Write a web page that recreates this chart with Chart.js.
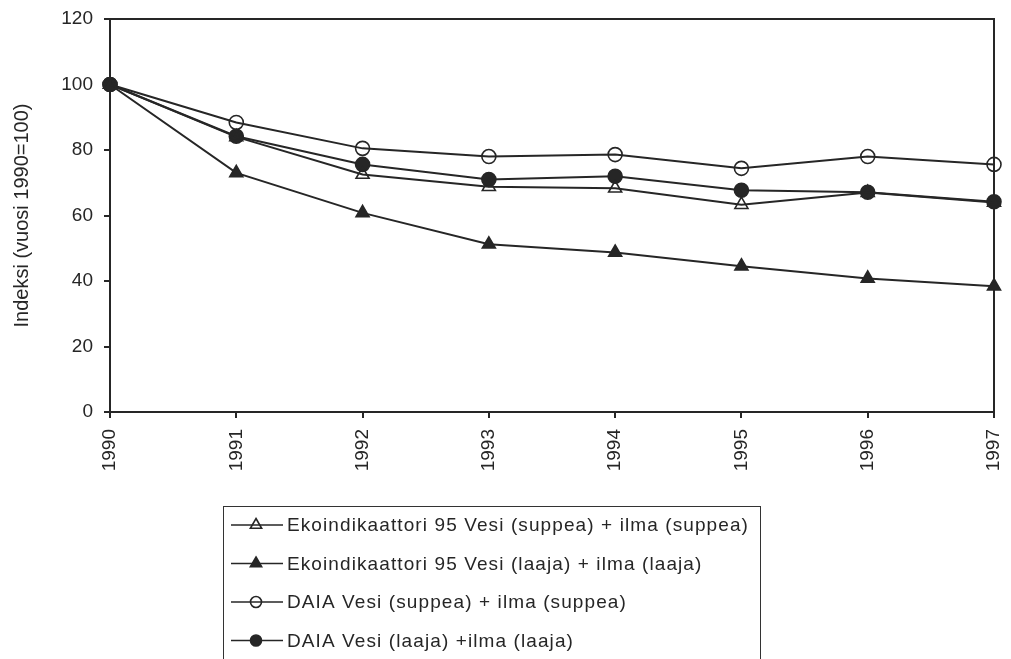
<!DOCTYPE html>
<html>
<head>
<meta charset="utf-8">
<script src="https://cdn.jsdelivr.net/npm/chart.js@4/dist/chart.umd.min.js"></script>
<style>
  html, body { margin: 0; padding: 0; background: #fff; }
  #wrap { width: 1011px; height: 659px; }
</style>
</head>
<body>
<div id="wrap"><canvas id="line"></canvas></div>
<script>
// values
const years = ['1990', '1991', '1992', '1993', '1994', '1995', '1996', '1997']
const ekoSuppea = [100, 84, 72.5, 68.8, 68.3, 63.3, 67, 64]
const ekoLaaja = [100, 73, 60.8, 51.2, 48.7, 44.5, 40.8, 38.4]
const daiaSuppea = [100, 88.4, 80.5, 78, 78.6, 74.4, 78, 75.6]
const daiaLaaja = [100, 84.2, 75.6, 71, 72, 67.7, 67.1, 64.2]

const seriesNames = [
  'Ekoindikaattori 95 Vesi (suppea) + ilma (suppea)',
  'Ekoindikaattori 95 Vesi (laaja) + ilma (laaja)',
  'DAIA Vesi (suppea) + ilma (suppea)',
  'DAIA Vesi (laaja) +ilma (laaja)',
]
const yTicks = [0, 20, 40, 60, 80, 100, 120]

const ink = '#262626'
const family = '"Liberation Sans", Arial, sans-serif'
const font = { family: family, size: 19 }

function series(label, data, style, filled, radius) {
  return {
    label: label,
    data: data,
    borderColor: ink,
    borderWidth: 2,
    pointStyle: style,
    pointRadius: radius,
    pointHoverRadius: radius,
    pointBorderWidth: 1.6,
    pointBorderColor: ink,
    pointBackgroundColor: filled ? ink : 'rgba(0,0,0,0)',
    tension: 0,
  }
}

// box around the plot area (top and right edges)
const frame = {
  id: 'frame',
  beforeDatasetsDraw(chart) {
    const a = chart.chartArea
    const ctx = chart.ctx
    ctx.save()
    ctx.strokeStyle = ink
    ctx.lineWidth = 2
    ctx.beginPath()
    ctx.moveTo(a.left, a.top)
    ctx.lineTo(a.right, a.top)
    ctx.lineTo(a.right, a.bottom)
    ctx.stroke()
    ctx.restore()
  },
}

// stacked legend in a box under the axis labels
const boxLegend = {
  id: 'boxLegend',
  afterDraw(chart) {
    const ctx = chart.ctx
    ctx.save()
    ctx.strokeStyle = '#333'
    ctx.lineWidth = 1
    ctx.strokeRect(223.5, 506.5, 537, 200)
    ctx.font = '19px ' + family
    ctx.letterSpacing = '1.1px'
    ctx.textBaseline = 'middle'
    chart.data.datasets.forEach(function (ds, i) {
      const y = 525 + i * 38.5
      ctx.strokeStyle = ink
      ctx.lineWidth = 1.6
      ctx.beginPath()
      ctx.moveTo(231, y)
      ctx.lineTo(283, y)
      ctx.stroke()
      ctx.fillStyle = ds.pointBackgroundColor
      Chart.helpers.drawPoint(ctx, {
        pointStyle: ds.pointStyle,
        radius: ds.pointStyle === 'circle' ? 5.5 : 6.5,
        rotation: 0,
        borderWidth: 1.4,
      }, 256, y)
      ctx.fillStyle = ink
      ctx.fillText(ds.label, 287, y + 1)
    })
    ctx.restore()
  },
}

const lineConfig = {
  type: 'line',
  data: {
    labels: years,
    datasets: [
      series(seriesNames[0], ekoSuppea, 'triangle', false, 7.5),
      series(seriesNames[1], ekoLaaja, 'triangle', true, 7.5),
      series(seriesNames[2], daiaSuppea, 'circle', false, 7),
      series(seriesNames[3], daiaLaaja, 'circle', true, 7),
    ],
  },
  options: {
    responsive: true,
    maintainAspectRatio: false,
    animation: false,
    layout: { padding: { left: 0, right: 17, top: 19, bottom: 0 } },
    plugins: {
      legend: { display: false },
      tooltip: { enabled: false },
    },
    scales: {
      x: {
        offset: false,
        grid: { drawOnChartArea: false, tickLength: 6, color: ink, lineWidth: 2 },
        border: { color: ink, width: 2 },
        ticks: { color: ink, font: font, minRotation: 90, maxRotation: 90, padding: 11 },
        afterFit(scale) {
          scale.height = 247
          scale.paddingLeft = 0
          scale.paddingRight = 0
        },
      },
      y: {
        min: 0,
        max: 120,
        afterBuildTicks(scale) { scale.ticks = yTicks.map(v => ({ value: v })) },
        grid: { drawOnChartArea: false, tickLength: 6, color: ink, lineWidth: 2 },
        border: { color: ink, width: 2 },
        ticks: { color: ink, font: font, padding: 11 },
        title: {
          display: true,
          text: 'Indeksi (vuosi 1990=100)',
          color: ink,
          font: { family: family, size: 20 },
          padding: { top: 10, bottom: 0 },
        },
        afterFit(scale) {
          scale.width = 110
          scale.paddingTop = 0
          scale.paddingBottom = 0
        },
      },
    },
  },
  plugins: [frame, boxLegend],
}

const lineCtx = document.getElementById('line')
window.myLine = new Chart(lineCtx, lineConfig)
</script>
</body>
</html>
